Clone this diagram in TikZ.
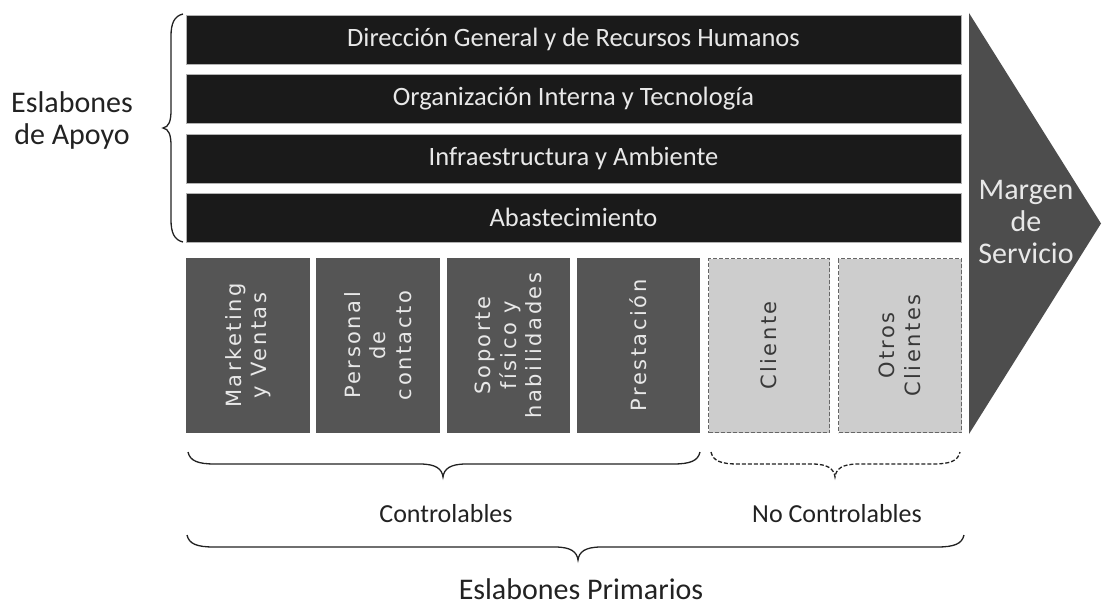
\documentclass[tikz,border=0pt]{standalone}
\usepackage{fontspec}
\setmainfont{Carlito}
\newfontfamily\boxfont[LetterSpace=12]{DejaVu Sans}
\definecolor{barblack}{HTML}{1A1A1A}
\definecolor{boxgray}{HTML}{555555}
\definecolor{lightbox}{HTML}{CDCDCD}
\definecolor{arrowgray}{HTML}{4D4D4D}
\definecolor{bartext}{HTML}{E8E8E8}
\definecolor{labeltext}{HTML}{222222}
\definecolor{dashgray}{HTML}{666666}
\tikzset{
  supportbar/.style={fill=barblack, draw=gray!60, line width=0.8pt, minimum width=775pt, minimum height=49pt, inner sep=0pt, outer sep=0pt, text=bartext, font=\fontsize{26.5}{30}\selectfont},
  primbox/.style={fill=boxgray, minimum width=123pt, minimum height=175pt, inner sep=0pt, outer sep=0pt},
  dashbox/.style={fill=lightbox, draw=dashgray, dash pattern=on 4pt off 2pt, line width=1pt, minimum width=121pt, minimum height=174pt, inner sep=0pt, outer sep=0pt},
  boxtext/.style={rotate=90, align=center, font=\boxfont\fontsize{21}{25.5}\selectfont},
  bracestyle/.style={draw=labeltext, line width=1.3pt},
  labelstyle/.style={text=labeltext, align=center, font=\fontsize{26}{32}\selectfont}
}
\begin{document}
\begin{tikzpicture}[x=1pt, y=-1pt]
\useasboundingbox (0,0) rectangle (1102,607);
% support bars
\node[supportbar] (b1) at (573.5,39.5) {Dirección General y de Recursos Humanos};
\node[supportbar] (b2) at (573.5,99) {Organización Interna y Tecnología};
\node[supportbar] (b3) at (573.5,158.5) {Infraestructura y Ambiente};
\node[supportbar] (b4) at (573.5,217.5) {Abastecimiento};
% primary boxes
\node[primbox, minimum width=124pt] (p1) at (248,345.5) {};
\node[primbox, minimum width=124pt] (p2) at (378,345.5) {};
\node[primbox] (p3) at (508.5,345.5) {};
\node[primbox] (p4) at (638.5,345.5) {};
\node[dashbox] (p5) at (769,345.5) {};
\node[dashbox, minimum width=123pt] (p6) at (900,345.5) {};
\node[boxtext, text=bartext] (t1) at (p1.center) {Marketing\\y Ventas};
\node[boxtext, text=bartext] (t2) at (p2.center) {Personal\\de\\contacto};
\node[boxtext, text=bartext] (t3) at (p3.center) {Soporte\\físico y\\habilidades};
\node[boxtext, text=bartext] (t4) at (p4.center) {Prestación};
\node[boxtext, text=labeltext!90] (t5) at (p5.center) {Cliente};
\node[boxtext, text=labeltext!90] (t6) at (p6.center) {Otros\\Clientes};
% margin arrow
\fill[arrowgray] (969,13) -- (1101,223.5) -- (969,434) -- cycle;
\node[align=center, text=bartext, font=\fontsize{30}{32}\selectfont] (margen) at (1026,222) {Margen\\de\\Servicio};
% left brace
\draw[bracestyle] (183,14) .. controls (174,16) and (171,24) .. (171,36) -- (171,110) .. controls (171,121) and (169,127) .. (163,128) .. controls (169,129) and (171,135) .. (171,146) -- (171,220) .. controls (171,232) and (174,240) .. (183,242);
\node[labelstyle, font=\fontsize{30}{32}\selectfont] (apoyo) at (72,121) {Eslabones\\de Apoyo};
% bottom braces
\draw[bracestyle] (188,452) .. controls (190,461) and (198,464) .. (215,464) -- (420,464) .. controls (436,464) and (442,469) .. (443,477) .. controls (444,469) and (450,464) .. (466,464) -- (673,464) .. controls (690,464) and (698,461) .. (700,452);
\draw[bracestyle, dash pattern=on 4pt off 2pt] (711,452) .. controls (713,461) and (721,464) .. (738,464) -- (812,464) .. controls (828,464) and (834,469) .. (835,477) .. controls (836,469) and (842,464) .. (858,464) -- (933,464) .. controls (950,464) and (958,461) .. (960,452);
\draw[bracestyle] (187,535) .. controls (189,544) and (197,547) .. (214,547) -- (555,547) .. controls (571,547) and (577,552) .. (578,560) .. controls (579,552) and (585,547) .. (601,547) -- (937,547) .. controls (954,547) and (962,544) .. (964,535);
\node[labelstyle] (ctrl) at (446,514) {Controlables};
\node[labelstyle] (noctrl) at (837,514) {No Controlables};
\node[labelstyle, font=\fontsize{30}{32}\selectfont] (prim) at (581,589) {Eslabones Primarios};
\end{tikzpicture}
\end{document}
